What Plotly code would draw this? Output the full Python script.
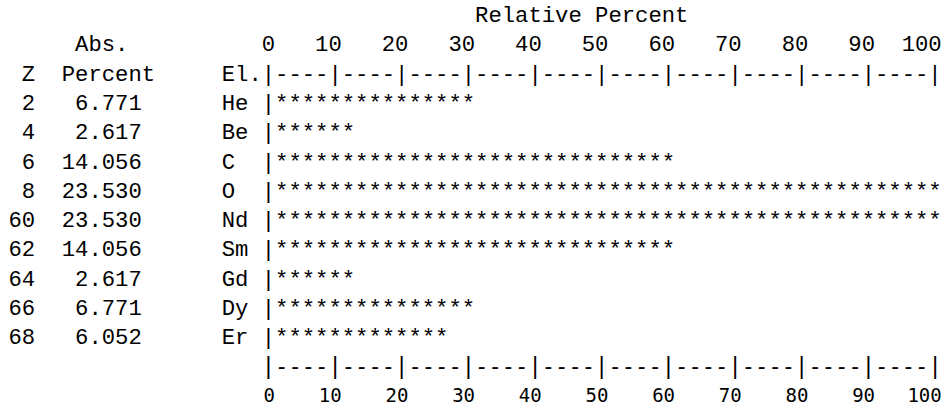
import math
import plotly.graph_objects as go

# ---- data ----
Z = [2, 4, 6, 8, 60, 62, 64, 66, 68]
elements = ["He", "Be", "C", "O", "Nd", "Sm", "Gd", "Dy", "Er"]
abs_percent = [6.771, 2.617, 14.056, 23.530, 23.530, 14.056, 2.617, 6.771, 6.052]
rel_ticks = [0, 10, 20, 30, 40, 50, 60, 70, 80, 90, 100]
title_text = "Relative Percent"
hdr_abs = "Abs."
hdr_z = "Z"
hdr_pct = "Percent"
hdr_el = "El."

# ---- geometry (character grid) ----
W, H = 941, 409
CW = 13.333          # px per character cell
LEFT = 8.4           # px left margin
PITCH = 29.3         # px per text line
TOP = 16.5           # px of first line box centre
BAR_COL = 19         # column of the '|' axis

def px_to_p(px):
    # x axis in "relative percent" units: col c centre -> 2*(c-19)
    return 2 * ((px - LEFT) / CW - 0.5 - BAR_COL)

MAIN = dict(family="Liberation Mono, Courier New, monospace", size=CW / 0.6, color="#000000")
BOT_RULE = dict(family="DejaVu Sans Mono, monospace", size=CW / 0.602, color="#000000")
BOT_LAB_SIZE = 19.0
BOT_LAB = dict(family="DejaVu Sans Mono, monospace", size=BOT_LAB_SIZE, color="#000000")

fig = go.Figure()

def cell_center(col_start, n):
    return 2 * col_start + n - 1 - 2 * BAR_COL

def add_text(xs, ys, texts, font):
    fig.add_trace(go.Scatter(x=xs, y=ys, text=texts, mode="text",
                             textposition="middle center", textfont=font,
                             hoverinfo="skip", showlegend=False, cliponaxis=False))

# line indices
L_TITLE, L_TOPLAB, L_HDR = 0, 1, 2
L_ROW0 = 3
L_BOTRULE = L_ROW0 + len(Z)
L_BOTLAB = L_BOTRULE + 1

# ruler string built from ticks
ruler = "|" + "".join("----|" for _ in rel_ticks[1:])

xs, ys, ts = [], [], []
def put(line, col, s):
    xs.append(cell_center(col, len(s))); ys.append(line); ts.append(s)

# title
put(L_TITLE, 35, title_text)
# top labels: right-aligned so last digit sits on tick column
for t in rel_ticks:
    s = str(t)
    col_end = BAR_COL + t // 2
    put(L_TOPLAB, col_end - len(s) + 1, s)
put(L_TOPLAB, 5, hdr_abs)
# header line
put(L_HDR, 1, hdr_z)
put(L_HDR, 4, hdr_pct)
put(L_HDR, 16, hdr_el)
for i, ch in enumerate(ruler):
    put(L_HDR, BAR_COL + i, ch)

# rows
vmax = max(abs_percent)
sx, sy = [], []
for r, (z, a, el) in enumerate(zip(Z, abs_percent, elements)):
    line = L_ROW0 + r
    zs = f"{z:d}"
    put(line, 1 - len(zs) + 1, zs)
    aps = f"{a:.3f}"
    put(line, 9 - len(aps) + 1, aps)
    put(line, 16, el)
    put(line, BAR_COL, "|")
    rel = a / vmax * 100.0
    n = int(math.ceil(rel / 2.0 - 1e-9))
    for k in range(1, n + 1):
        sx.append(2 * k); sy.append(line)

add_text(xs, ys, ts, MAIN)
add_text(sx, sy, ["*"] * len(sx), MAIN)

# bottom ruler
bx = [cell_center(BAR_COL + i, 1) for i in range(len(ruler))]
add_text(bx, [L_BOTRULE] * len(ruler), list(ruler), BOT_RULE)

# bottom labels (sans mono, slightly smaller, right aligned at tick column edge)
adv_p = BOT_LAB_SIZE * 0.602 / CW * 2
lx, ly, lt = [], [], []
for t in rel_ticks:
    s = str(t)
    right_p = t + 1
    lx.append(right_p - len(s) * adv_p / 2); ly.append(L_BOTLAB); lt.append(s)
add_text(lx, ly, lt, BOT_LAB)

fig.update_layout(
    width=W, height=H, autosize=False,
    margin=dict(l=0, r=0, t=0, b=0, pad=0),
    paper_bgcolor="white", plot_bgcolor="white",
    xaxis=dict(range=[px_to_p(0), px_to_p(W)], visible=False, fixedrange=True),
    yaxis=dict(range=[(H - TOP) / PITCH, -TOP / PITCH], visible=False, fixedrange=True),
    showlegend=False,
    hovermode=False,
)

fig.write_html(
    "out.html",
    config={"displayModeBar": False, "staticPlot": True},
    post_script="document.body.style.margin='0';document.body.style.overflow='hidden';",
)
